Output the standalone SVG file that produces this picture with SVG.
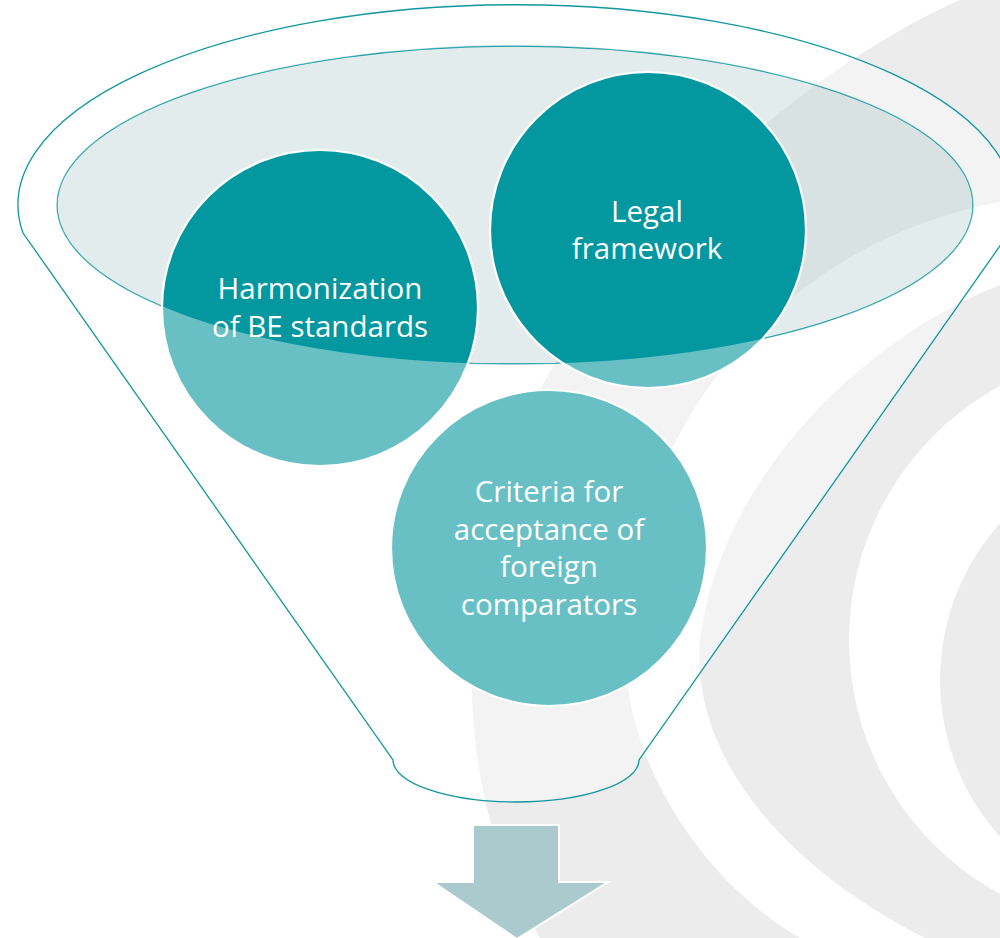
<svg xmlns="http://www.w3.org/2000/svg" width="1000" height="938" viewBox="0 0 1000 938">
  <style>
    .band { fill: #ececec; }
    .gap { fill: #ffffff; }
    .rim { fill: none; stroke: #10979f; stroke-width: 1.3; }
    .mouth { fill: #c4d7d9; fill-opacity: 0.47; stroke: #10979f; stroke-width: 1.3; }
    .body { fill: #ffffff; fill-opacity: 0.4; fill-rule: evenodd; }
    .disc { fill: #03979f; stroke: #ffffff; stroke-width: 2.2; }
    .disc-low { fill: #68c0c5; stroke: #ffffff; stroke-width: 2.2; }
    .label { font-family: "Open Sans", "Noto Sans", "Liberation Sans", sans-serif; font-size: 29.5px; fill: #ffffff; text-anchor: middle; }
    .arrow { fill: #abcacd; stroke: #ffffff; stroke-width: 2; }
  </style>
  <defs>
    <!-- everything outside the funnel mouth -->
    <clipPath id="below-mouth">
      <path clip-rule="evenodd" d="M -10 -10 H 1010 V 948 H -10 Z M 57 205 A 458 159 0 1 0 973 205 A 458 159 0 1 0 57 205 Z"/>
    </clipPath>
  </defs>

  <rect width="1000" height="938" fill="#ffffff"/>

  <!-- watermark rings on the right -->
  <g id="watermark">
    <path class="band" d="M 1010 0 L 960 0 C 800 70 600 250 520 430 C 450 600 455 800 540 938 L 1010 938 Z"/>
    <path class="gap" d="M 1000 202 A 455 455 0 0 0 625 650 C 625 760 700 880 800 938 L 1010 938 L 1010 202 Z"/>
    <path class="band" d="M 1010 285 L 1000 285 C 860 340 720 480 700 640 C 690 760 790 870 925 938 L 1010 938 Z"/>
    <circle class="gap" cx="1138" cy="640" r="289"/>
    <circle class="band" cx="1175" cy="680" r="235"/>
  </g>

  <!-- funnel -->
  <g id="funnel">
    <ellipse class="mouth" cx="515" cy="205" rx="458" ry="159"/>
    <path class="body" d="M 23 233 A 498 200 0 1 1 1009 233 L 639 760 A 123 42 0 0 1 393 760 Z M 57 205 A 458 159 0 1 0 973 205 A 458 159 0 1 0 57 205 Z"/>
    <path class="rim" d="M 23 233 A 498 200 0 1 1 1009 233 L 639 760 A 123 42 0 0 1 393 760 Z"/>
  </g>

  <g id="node-harmonization">
    <circle class="disc" cx="320" cy="308" r="158"/>
    <circle class="disc-low" cx="320" cy="308" r="158" clip-path="url(#below-mouth)"/>
    <text class="label" x="320" y="299">Harmonization</text>
    <text class="label" x="320" y="337">of BE standards</text>
  </g>

  <g id="node-legal">
    <circle class="disc" cx="648" cy="230" r="158"/>
    <circle class="disc-low" cx="648" cy="230" r="158" clip-path="url(#below-mouth)"/>
    <text class="label" x="647" y="222">Legal</text>
    <text class="label" x="647" y="259">framework</text>
  </g>

  <g id="node-criteria">
    <circle class="disc-low" cx="549" cy="548" r="158"/>
    <text class="label" x="549" y="502">Criteria for</text>
    <text class="label" x="549" y="540">acceptance of</text>
    <text class="label" x="549" y="577">foreign</text>
    <text class="label" x="549" y="615">comparators</text>
  </g>

  <g id="connectors">
    <path class="arrow" d="M 473 825 H 559 V 882 H 608 L 517 939 L 433 882 H 473 Z"/>
  </g>
</svg>
